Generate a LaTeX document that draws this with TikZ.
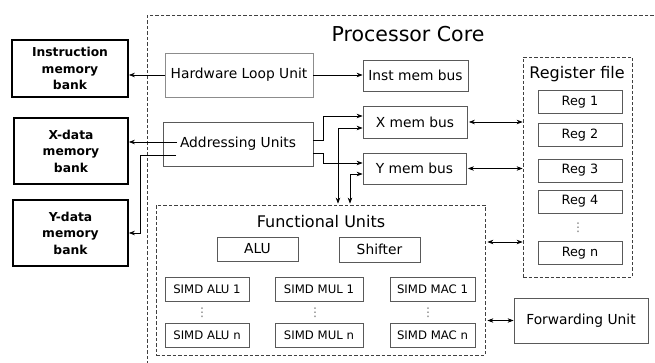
\documentclass[tikz,border=0pt]{standalone}
\usepackage{fontspec}
\setmainfont{DejaVu Sans}
\usetikzlibrary{arrows.meta}
\begin{document}
\begin{tikzpicture}[x=1pt,y=-1pt,
  bank/.style={draw=black, line width=1.8pt, align=center, inner sep=0pt,
    font=\bfseries\fontsize{12.3}{16.5}\selectfont},
  unit/.style={draw=black!65, line width=0.8pt, inner sep=0pt,
    font=\fontsize{13.8}{16}\selectfont},
  lightunit/.style={unit, draw=black!45},
  regbox/.style={unit, font=\fontsize{12.8}{15}\selectfont, minimum width=84pt, minimum height=23pt},
  simd/.style={unit, font=\fontsize{11.7}{14}\selectfont, minimum height=24pt},
  group/.style={draw=black!75, dash pattern=on 3.5pt off 2pt, line width=0.8pt, inner sep=0pt},
  dotsnode/.style={text=black!55, font=\fontsize{12}{12}\selectfont, inner sep=0pt},
  tip/.tip={Stealth[length=6pt,width=4.5pt]},
  con/.style={line width=0.7pt, -tip},
  bicon/.style={line width=0.7pt, tip-tip}
]
\useasboundingbox (0,0) rectangle (655,363);
\clip (0,0) rectangle (655,363);

% processor core
\node[group, anchor=north west, minimum width=540pt, minimum height=400pt] (core) at (147,15) {};
\node[anchor=base, font=\fontsize{20.5}{24}\selectfont] (coretitle) at (408,42) {Processor Core};

% memory banks
\node[bank, minimum width=116pt, minimum height=57pt] (ibank) at (70,68.5) {Instruction\\memory\\bank};
\node[bank, minimum width=114pt, minimum height=66pt] (xbank) at (71,151) {X-data\\memory\\bank};
\node[bank, minimum width=115pt, minimum height=66pt] (ybank) at (70.5,233) {Y-data\\memory\\bank};

% units
\node[lightunit, minimum width=148pt, minimum height=44pt] (hlu) at (239,75) {Hardware Loop Unit};
\node[unit, minimum width=150pt, minimum height=44pt] (addr) at (238,144) {Addressing Units};
\node[unit, minimum width=105pt, minimum height=31pt] (imb) at (415.5,75.5) {Inst mem bus};
\node[unit, minimum width=104pt, minimum height=32pt] (xmb) at (415,122) {X mem bus};
\node[unit, minimum width=103pt, minimum height=31pt] (ymb) at (414.5,168.5) {Y mem bus};

% register file
\node[group, minimum width=109pt, minimum height=220pt] (regfile) at (577.5,167) {};
\node[anchor=base, font=\fontsize{16}{18}\selectfont] (rftitle) at (577,79) {Register file};
\node[regbox] (r1) at (580,102) {Reg 1};
\node[regbox] (r2) at (580,135) {Reg 2};
\node[regbox] (r3) at (580,170.5) {Reg 3};
\node[regbox] (r4) at (580,201.5) {Reg 4};
\node[dotsnode] (rdots) at (578,228) {⋮};
\node[regbox] (rn) at (580,253) {Reg n};

% functional units
\node[group, minimum width=329pt, minimum height=150pt] (fu) at (320.5,280) {};
\node[anchor=base, font=\fontsize{16}{18}\selectfont] (futitle) at (321,228) {Functional Units};
\node[unit, minimum width=81pt, minimum height=24pt] (alu) at (257.5,249) {ALU};
\node[unit, minimum width=81pt, minimum height=25pt] (shifter) at (379.5,249.5) {Shifter};
\node[simd, minimum width=84pt] (sa1) at (207,289) {SIMD ALU 1};
\node[simd, minimum width=84pt] (san) at (207,335.5) {SIMD ALU n};
\node[simd, minimum width=88pt] (sm1) at (319,289) {SIMD MUL 1};
\node[simd, minimum width=88pt] (smn) at (319,335.5) {SIMD MUL n};
\node[simd, minimum width=85pt] (sc1) at (432.5,289) {SIMD MAC 1};
\node[simd, minimum width=85pt] (scn) at (432.5,335.5) {SIMD MAC n};
\node[dotsnode] (d1) at (202,313) {⋮};
\node[dotsnode] (d2) at (315,313) {⋮};
\node[dotsnode] (d3) at (428,313) {⋮};

% forwarding unit
\node[unit, minimum width=134pt, minimum height=45pt] (fwd) at (581,320.5) {Forwarding Unit};

% connectors
\draw[con] (hlu.west) -- (hlu.west -| ibank.east);
\draw[con] (hlu.east) -- (hlu.east -| imb.west);
\coordinate (a1) at (177,142);
\coordinate (a2) at (176,155);
\draw[con] (a1) -- (a1 -| xbank.east);
\draw[con] (a2) -| ([xshift=11pt]ybank.east) -- (ybank.east);
\draw[con] ([yshift=4pt]addr.east) -- ++(10,0) |- ([yshift=6pt]xmb.west);
\draw[con] ([yshift=-9pt]addr.east) -- ++(10,0) |- ([yshift=5.5pt]ymb.west);
\draw[bicon] ([yshift=-6pt]xmb.west) -| ([xshift=17.5pt,yshift=1pt]fu.north);
\draw[bicon] ([yshift=-5.5pt]ymb.west) -| ([xshift=29.5pt,yshift=1pt]fu.north);
\draw[bicon] ([xshift=1.5pt]xmb.east) -- (xmb.east -| regfile.west);
\draw[bicon] ([xshift=1.5pt]ymb.east) -- (ymb.east -| regfile.west);
\draw[bicon] ([xshift=2pt,yshift=38pt]fu.east) -- ([yshift=38pt]fu.east -| regfile.west);
\draw[bicon] ([xshift=2pt]fu.east |- fwd.west) -- (fwd.west);
\end{tikzpicture}
\end{document}
